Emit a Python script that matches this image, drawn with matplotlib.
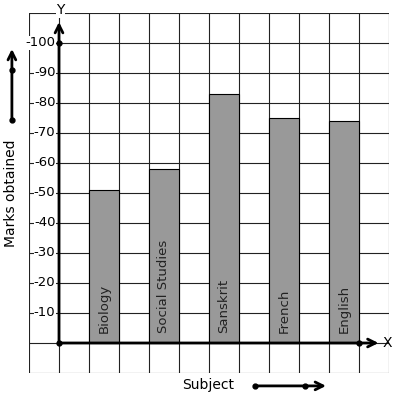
import matplotlib.pyplot as plt

subjects = ['Biology', 'Social Studies', 'Sanskrit', 'French', 'English']
marks = [51, 58, 83, 75, 74]
bar_pos = [1.5, 3.5, 5.5, 7.5, 9.5]
y_ticks = [10, 20, 30, 40, 50, 60, 70, 80, 90, 100]

W, H = 397, 399
fig = plt.figure(figsize=(W / 100, H / 100), dpi=100)
ax = fig.add_axes([29 / W, 1 - 373 / H, 360 / W, 360 / H])
ax.set_xlim(-1, 11)
ax.set_ylim(-10, 110)
ax.axis('off')

# graph paper grid
for gx in range(-1, 12):
    ax.plot([gx, gx], [-10, 110], color='#222222', lw=0.8, zorder=1)
for gy in range(-10, 111, 10):
    ax.plot([-1, 11], [gy, gy], color='#222222', lw=0.8, zorder=1)

# bars
ax.bar(bar_pos, marks, width=1, color='#999999', edgecolor='black', lw=0.8, zorder=2)
for x, name in zip(bar_pos, subjects):
    ax.text(x, 3.2, name, rotation=90, ha='center', va='bottom', fontsize=9.5,
            color='#222222', zorder=3)

# y tick labels
for t in y_ticks:
    ax.text(-0.12, t, '-' + str(t), ha='right', va='center', fontsize=9.5, zorder=3,
            bbox=dict(facecolor='white', edgecolor='none', pad=0.2))

# axes with arrows
arrow = dict(arrowstyle='->', lw=2, color='black', mutation_scale=14, shrinkA=0, shrinkB=0)
ax.annotate('', xy=(0, 107), xytext=(0, 0), arrowprops=arrow, zorder=4)
ax.annotate('', xy=(10.65, 0), xytext=(0, 0), arrowprops=arrow, zorder=4)
ax.plot([0, 0, 10], [0, 100, 0], 'o', color='black', ms=3.5, zorder=5)
ax.text(0.05, 111, 'Y', ha='center', va='center', fontsize=10,
        bbox=dict(facecolor='white', edgecolor='none', pad=0.5), clip_on=False)
ax.text(10.8, 0, 'X', ha='left', va='center', fontsize=10, clip_on=False)

# y label with arrow
ax.annotate('', xy=(-1.57, 98), xytext=(-1.57, 74.3), arrowprops=arrow,
            annotation_clip=False)
ax.plot([-1.57, -1.57], [74.3, 91], 'o', color='black', ms=3.5, clip_on=False)
ax.text(-1.6, 50, 'Marks obtained', rotation=90, ha='center', va='center',
        fontsize=10, clip_on=False)

# x label with arrow
ax.text(4.97, -14, 'Subject', ha='center', va='center', fontsize=10, clip_on=False)
ax.annotate('', xy=(8.9, -14.3), xytext=(6.53, -14.3), arrowprops=arrow,
            annotation_clip=False)
ax.plot([6.53, 8.2], [-14.3, -14.3], 'o', color='black', ms=3.5, clip_on=False)

fig.savefig('out.png', dpi=100)
